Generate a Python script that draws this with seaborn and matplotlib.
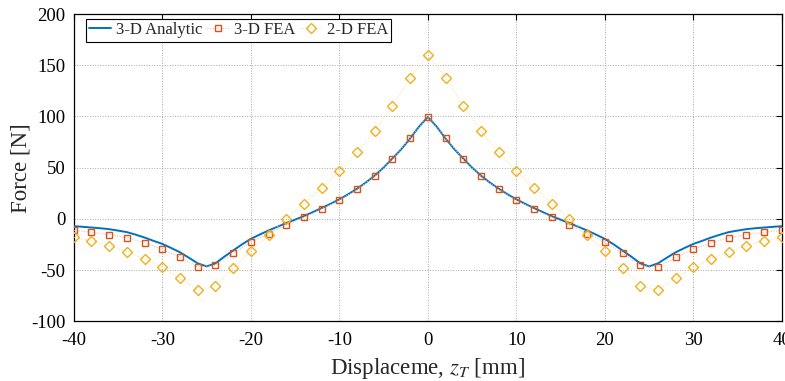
import numpy as np
import pandas as pd
import matplotlib
matplotlib.use("Agg")
import matplotlib.pyplot as plt
import seaborn as sns

# ---- data ----
x_analytic = list(range(-40, 41))
f_analytic = [-7.2, -7.8, -8.5, -9.2, -10.1, -11.5, -13.0, -15.5, -18.3, -21.5,
              -24.5, -28.5, -32.7, -38.0, -43.5, -46.5, -43.5, -37.0, -31.0, -25.0,
              -19.6, -15.4, -11.4, -7.8, -4.2, -0.8, 2.6, 6.5, 10.5, 14.6,
              19.0, 24.0, 29.4, 35.5, 42.2, 50.0, 58.9, 68.0, 78.5, 90.0,
              99.5,
              90.0, 78.5, 68.0, 58.9, 50.0, 42.2, 35.5, 29.4, 24.0, 19.0,
              14.6, 10.5, 6.5, 2.6, -0.8, -4.2, -7.8, -11.4, -15.4, -19.6,
              -25.0, -31.0, -37.0, -43.5, -46.5, -43.5, -38.0, -32.7, -28.5, -24.5,
              -21.5, -18.3, -15.5, -13.0, -11.5, -10.1, -9.2, -8.5, -7.8, -7.2]

x_fea = list(range(-40, 41, 2))
f_fea3d = [-11.4, -13.1, -15.4, -18.3, -23.5, -29.8, -37.6, -47.1, -45.5, -33.7,
           -22.9, -14.4, -6.2, 1.6, 9.8, 18.3, 28.8, 41.5, 58.2, 78.8,
           99.7,
           78.8, 58.2, 41.5, 28.8, 18.3, 9.8, 1.6, -6.2, -14.4, -22.9,
           -33.7, -45.5, -47.1, -37.6, -29.8, -23.5, -18.3, -15.4, -13.1, -11.4]
f_fea2d = [-18.0, -21.6, -26.2, -32.0, -38.9, -47.4, -57.9, -69.3, -65.7, -48.0,
           -31.4, -16.0, 0.0, 14.7, 30.0, 46.4, 65.0, 86.0, 110.2, 138.0,
           160.0,
           138.0, 110.2, 86.0, 65.0, 46.4, 30.0, 14.7, 0.0, -16.0, -31.4,
           -48.0, -65.7, -69.3, -57.9, -47.4, -38.9, -32.0, -26.2, -21.6, -18.0]

labels = ["3-D Analytic", "3-D FEA", "2-D FEA"]
x_ticks = [-40, -30, -20, -10, 0, 10, 20, 30, 40]
y_ticks = [-100, -50, 0, 50, 100, 150, 200]

# ---- style ----
sns.set_theme(style="white")
plt.rcParams["font.family"] = ["Liberation Serif", "DejaVu Serif"]
plt.rcParams["mathtext.fontset"] = "stix"

c_blue = "#0072BD"
c_red = "#D95319"
c_yel = "#EDB120"

fig = plt.figure(figsize=(7.85, 3.81), dpi=100)
ax = fig.add_axes([0.094, 0.157, 0.902, 0.806])

df_a = pd.DataFrame({"x": x_analytic, "f": f_analytic})
df_3 = pd.DataFrame({"x": x_fea, "f": f_fea3d})
df_2 = pd.DataFrame({"x": x_fea, "f": f_fea2d})

sns.lineplot(data=df_a, x="x", y="f", ax=ax, color=c_blue, lw=1.4,
             label=labels[0], zorder=3)
sns.lineplot(data=df_3, x="x", y="f", ax=ax, color="#f0b49a", lw=0.7,
             linestyle=":", marker="s", markersize=4.5, markerfacecolor="none",
             markeredgecolor=c_red, markeredgewidth=1.0, label=labels[1], zorder=4)
sns.lineplot(data=df_2, x="x", y="f", ax=ax, color="#f8dc9c", lw=0.7,
             linestyle=":", marker="D", markersize=5.5, markerfacecolor="none",
             markeredgecolor=c_yel, markeredgewidth=1.0, label=labels[2], zorder=4)

ax.set_xlim(-40, 40)
ax.set_ylim(-100, 200)
ax.set_xticks(x_ticks)
ax.set_yticks(y_ticks)
ax.set_xticklabels([str(v) for v in x_ticks])
ax.set_yticklabels([str(v) for v in y_ticks])
ax.grid(True, linestyle=":", color="#a8a8a8", lw=0.7)
ax.tick_params(direction="in", top=True, right=True, length=4, width=0.8,
               labelsize=13.5, colors="black")
ax.tick_params(axis="x", pad=8)
ax.tick_params(axis="y", pad=6)
for s in ax.spines.values():
    s.set_color("black")
    s.set_linewidth(0.9)

ax.set_xlabel(r"Displaceme, $z_T$ [mm]", fontsize=16.5)
ax.set_ylabel("Force [N]", fontsize=16.5)
ax.xaxis.set_label_coords(0.5, -0.112)
ax.yaxis.set_label_coords(-0.06, 0.5)

leg = ax.legend(loc="upper left", ncol=3, fontsize=12, frameon=True,
                fancybox=False, edgecolor="black", framealpha=1,
                handlelength=1.3, columnspacing=0.3, handletextpad=0.3,
                borderpad=0.2, borderaxespad=0.2, bbox_to_anchor=(0.012, 0.995))
leg.get_frame().set_linewidth(0.8)

fig.savefig("out.png", dpi=100)
